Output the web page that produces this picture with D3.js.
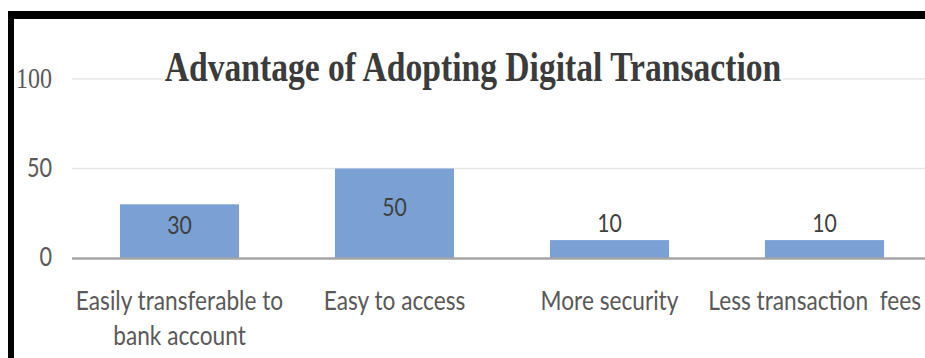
<!DOCTYPE html>
<html>
<head>
<meta charset="utf-8">
<script src="https://cdn.jsdelivr.net/npm/d3@7"></script>
<style>
  html, body { margin: 0; padding: 0; background: #fff; }
  svg { display: block; }
  text { white-space: pre; }
</style>
</head>
<body>
<svg id="chart" width="925" height="358"></svg>
<script>
// Survey results: advantages of adopting digital transactions
const categories = [
  "Easily transferable to\nbank account",
  "Easy to access",
  "More security",
  "Less transaction  fees"
];
const values = [30, 50, 10, 10];
const yTicks = [0, 50, 100];
const title = "Advantage of Adopting Digital Transaction";

const W = 925, H = 358;
const svg = d3.select("#chart");

const x = d3.scaleBand()
  .domain(categories)
  .range([72, 932])
  .paddingInner(0.446)
  .paddingOuter(0.223);

const y = d3.scaleLinear().domain([0, 100]).range([258, 79]);

const sans = "Lato, 'Open Sans', sans-serif";
const serif = "'Liberation Serif', 'DejaVu Serif', serif";

// frame: heavy black top and left edges
svg.append("rect").attr("x", 8).attr("y", 11).attr("width", W - 8).attr("height", 8).attr("fill", "#000");
svg.append("rect").attr("x", 8).attr("y", 11).attr("width", 6).attr("height", H - 11).attr("fill", "#000");

// gridlines
svg.append("g")
  .selectAll("line")
  .data(yTicks.filter(t => t !== 0))
  .join("line")
  .attr("x1", 72).attr("x2", W)
  .attr("y1", d => y(d)).attr("y2", d => y(d))
  .attr("stroke", "#e6e6e6").attr("stroke-width", 1.5);

// y axis labels
const yAxis = svg.append("g")
  .attr("transform", "translate(52,0)")
  .call(d3.axisLeft(y).tickValues(yTicks).tickSize(0).tickPadding(0));
yAxis.select(".domain").remove();
yAxis.selectAll(".tick text")
  .attr("fill", "#595959")
  .attr("font-family", d => d === 100 ? serif : sans)
  .attr("font-size", d => d === 100 ? 30 : 27)
  .attr("transform", "translate(0,-1) scale(0.8,1)");

// bars
svg.append("g")
  .selectAll("rect")
  .data(values)
  .join("rect")
  .attr("x", (d, i) => x(categories[i]))
  .attr("width", x.bandwidth())
  .attr("y", d => y(d))
  .attr("height", d => y(0) - y(d))
  .attr("fill", "#7aa0d4");

// baseline
svg.append("line")
  .attr("x1", 72).attr("x2", W)
  .attr("y1", y(0) + 0.5).attr("y2", y(0) + 0.5)
  .attr("stroke", "#a6a6a6").attr("stroke-width", 2.5);

// value labels: inside tall bars, above short ones
svg.append("g")
  .selectAll("text")
  .data(values)
  .join("text")
  .attr("transform", (d, i) => {
    const cx = x(categories[i]) + x.bandwidth() / 2;
    const cy = d >= 20 ? (y(d) + y(0)) / 2 - 6 : y(d) - 17;
    return `translate(${cx},${cy}) scale(0.85,1)`;
  })
  .attr("text-anchor", "middle")
  .attr("dy", "0.35em")
  .attr("font-family", sans)
  .attr("font-size", 25)
  .attr("fill", "#404040")
  .text(d => d);

// category labels, kept inside the right edge of the frame
const xAxis = svg.append("g")
  .attr("transform", `translate(0,${y(0)})`)
  .call(d3.axisBottom(x).tickSize(0).tickFormat(""));
xAxis.select(".domain").remove();
xAxis.selectAll(".tick").each(function(d) {
  const t = d3.select(this).append("text")
    .attr("text-anchor", "middle")
    .attr("font-family", sans)
    .attr("font-size", 27)
    .attr("fill", "#595959")
    .attr("transform", "translate(0,52) scale(0.84,1)");
  d.split("\n").forEach((line, k) => {
    t.append("tspan").attr("x", 0).attr("y", k * 35).text(line);
  });
  const r = t.node().getBoundingClientRect();
  const over = r.right - (W - 4);
  if (over > 0) t.attr("transform", `translate(${-over},52) scale(0.84,1)`);
});

// title on a white backing so the top gridline stops at its edges
const titleG = svg.append("g").attr("transform", "translate(473,81) scale(0.8,1)");
const backing = titleG.append("rect").attr("fill", "#fff");
const titleText = titleG.append("text")
  .attr("text-anchor", "middle")
  .attr("font-family", serif)
  .attr("font-weight", "bold")
  .attr("font-size", 42)
  .attr("fill", "#3b3b3b")
  .text(title);
const bb = titleText.node().getBBox();
backing.attr("x", bb.x - 2).attr("y", bb.y).attr("width", bb.width + 4).attr("height", bb.height);
</script>
</body>
</html>
